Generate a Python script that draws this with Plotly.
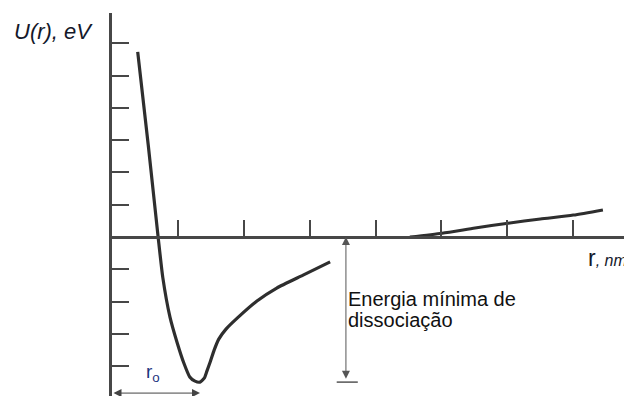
import plotly.graph_objects as go

# ---- data (r in tick units, U in eV) ----
r_left = [0.39, 0.55, 0.70, 0.77, 0.88, 0.99, 1.09, 1.18, 1.26, 1.335, 1.40, 1.44, 1.49, 1.55, 1.62, 1.73, 1.90, 2.20, 2.50, 2.90, 3.31]
u_left = [5.73, 2.85, 0.00, -1.24, -2.48, -3.28, -3.90, -4.33, -4.46, -4.49, -4.37, -4.15, -3.87, -3.50, -3.16, -2.85, -2.51, -1.98, -1.58, -1.18, -0.77]
r_right = [4.52, 5.01, 5.51, 6.01, 6.50, 7.00, 7.45]
u_right = [0.00, 0.12, 0.28, 0.43, 0.56, 0.68, 0.84]
x_ticks = [1, 2, 3, 4, 5, 6, 7]
y_ticks = [-4, -3, -2, -1, 1, 2, 3, 4, 5, 6]
r_energy_arrow = 3.55
r_zero_arrow_y = -4.83

W, H = 624, 396
xmin, xmax = 0, 7.77
ymin, ymax = -4.92, 6.935
ydom_top = 383 / 396
xdom_left = 112 / 624

u_min = min(u_left)
r0 = r_left[u_left.index(u_min)]

CURVE = "#2e2e2e"
AX = "#474747"
FONT = "Liberation Sans, Arial, sans-serif"

fig = go.Figure()
fig.add_trace(go.Scatter(x=r_left, y=u_left, mode="lines",
                         line=dict(color=CURVE, width=3.2, shape="spline", smoothing=0.5),
                         hoverinfo="skip", showlegend=False))
fig.add_trace(go.Scatter(x=r_right, y=u_right, mode="lines",
                         line=dict(color=CURVE, width=3, shape="spline", smoothing=0.6),
                         hoverinfo="skip", showlegend=False))

x_pos = ydom_top * (0 - ymin) / (ymax - ymin)

fig.update_layout(
    width=W, height=H, margin=dict(l=0, r=0, t=0, b=0),
    paper_bgcolor="white", plot_bgcolor="white",
    font=dict(family=FONT, color="#111"),
    xaxis=dict(range=[xmin, xmax], domain=[xdom_left, 1], anchor="free", position=x_pos,
               showline=True, linecolor=AX, linewidth=2.5, showgrid=False, zeroline=False,
               tickmode="array", tickvals=x_ticks, ticks="inside", ticklen=16, tickwidth=2.2,
               tickcolor=AX, showticklabels=False),
    yaxis=dict(range=[ymin, ymax], domain=[0, ydom_top], anchor="x",
               showline=True, linecolor=AX, linewidth=2.5, showgrid=False, zeroline=False,
               tickmode="array", tickvals=y_ticks, ticks="inside", ticklen=17, tickwidth=2.4,
               tickcolor=AX, showticklabels=False),
)

def px(x):
    return x / W

def py(y):
    return 1 - y / H

annots = [
    dict(text="<i>U(r), eV</i>", x=px(12), y=py(31), xref="paper", yref="paper",
         xanchor="left", yanchor="middle", showarrow=False,
         font=dict(size=22, color="#14182a", family=FONT)),
    dict(text="Energia mínima de", x=px(346), y=py(299), xref="paper", yref="paper",
         xanchor="left", yanchor="middle", showarrow=False,
         font=dict(size=20, color="#111", family=FONT)),
    dict(text="dissociação", x=px(346), y=py(320), xref="paper", yref="paper",
         xanchor="left", yanchor="middle", showarrow=False,
         font=dict(size=20, color="#111", family=FONT)),
    dict(text="r<sub>o</sub>", x=px(144), y=py(373), xref="paper", yref="paper",
         xanchor="left", yanchor="middle", showarrow=False,
         font=dict(size=19, color="#1d3580", family=FONT)),
    dict(text="r<span style='font-size:16px'><i>, nm</i></span>", x=px(586), y=py(258),
         xref="paper", yref="paper", xanchor="left", yanchor="middle", showarrow=False,
         font=dict(size=23, color="#14182a", family=FONT)),
    # dissociation energy double arrow
    dict(text="", x=r_energy_arrow, y=0, ax=r_energy_arrow, ay=u_min + 0.06,
         xref="x", yref="y", axref="x", ayref="y", showarrow=True,
         arrowside="end+start", arrowhead=2, startarrowhead=2,
         arrowsize=1.6, startarrowsize=1.6, arrowwidth=1, arrowcolor="#555"),
    # r0 double arrow
    dict(text="", x=r0, y=r_zero_arrow_y, ax=0, ay=r_zero_arrow_y,
         xref="x", yref="y", axref="x", ayref="y", showarrow=True,
         arrowside="end+start", arrowhead=2, startarrowhead=2,
         arrowsize=1.6, startarrowsize=1.6, arrowwidth=1, arrowcolor="#444"),
]
fig.update_layout(annotations=annots)

fig.add_shape(type="line", xref="x", yref="y",
              x0=r_energy_arrow - 0.14, x1=r_energy_arrow + 0.18, y0=u_min, y1=u_min,
              line=dict(color="#555", width=1.5))

fig.write_html("out.html", config={"displayModeBar": False},
               post_script="document.body.style.margin='0';document.body.style.overflow='hidden';")
